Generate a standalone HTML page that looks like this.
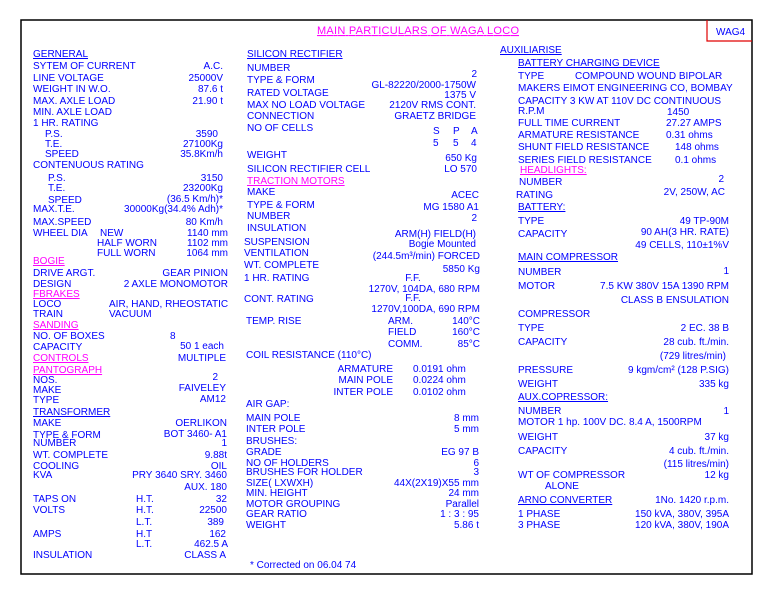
<!DOCTYPE html>
<html><head><meta charset="utf-8"><style>
html,body{margin:0;padding:0;background:#fff;}
svg{display:block;}
text{font-family:"Liberation Sans",sans-serif;font-size:10px;fill:#0000ff;}
.m{fill:#ff00ff;}
.e{text-anchor:end;}
.u{text-decoration:underline;}
</style></head><body>
<svg width="780" height="605" viewBox="0 0 780 605" xmlns="http://www.w3.org/2000/svg">
<rect x="21" y="20" width="731" height="554" fill="none" stroke="#000" stroke-width="1.5"/>
<polyline points="707,20 707,41 752,41" fill="none" stroke="#e00000" stroke-width="1.2"/>
<text x="716" y="35">WAG4</text>
<text x="317" y="34" class="m u" textLength="202" style="font-size:11px">MAIN PARTICULARS OF WAGA LOCO</text>

<!-- LEFT COLUMN -->
<text x="33" y="57" class="u">GERNERAL</text>
<text x="33" y="69">SYTEM OF CURRENT</text><text x="223" y="69" class="e">A.C.</text>
<text x="33" y="81">LINE VOLTAGE</text><text x="223" y="81" class="e">25000V</text>
<text x="33" y="92">WEIGHT IN W.O.</text><text x="223" y="92" class="e">87.6 t</text>
<text x="33" y="104">MAX. AXLE LOAD</text><text x="223" y="104" class="e">21.90 t</text>
<text x="33" y="115">MIN. AXLE LOAD</text>
<text x="33" y="126">1 HR. RATING</text>
<text x="45" y="137">P.S.</text><text x="218" y="137" class="e">3590</text>
<text x="45" y="147">T.E.</text><text x="223" y="147" class="e">27100Kg</text>
<text x="45" y="157">SPEED</text><text x="223" y="157" class="e">35.8Km/h</text>
<text x="33" y="168">CONTENUOUS RATING</text>
<text x="48" y="181">P.S.</text><text x="223" y="181" class="e">3150</text>
<text x="48" y="191">T.E.</text><text x="223" y="191" class="e">23200Kg</text>
<text x="48" y="203">SPEED</text><text x="223" y="202" class="e">(36.5 Km/h)*</text>
<text x="33" y="212">MAX.T.E.</text><text x="223" y="212" class="e">30000Kg(34.4% Adh)*</text>
<text x="33" y="225">MAX.SPEED</text><text x="223" y="225" class="e">80 Km/h</text>
<text x="33" y="236">WHEEL DIA</text><text x="100" y="236">NEW</text><text x="228" y="236" class="e">1140 mm</text>
<text x="97" y="246">HALF WORN</text><text x="228" y="246" class="e">1102 mm</text>
<text x="97" y="256">FULL WORN</text><text x="228" y="256" class="e">1064 mm</text>
<text x="33" y="264" class="m u">BOGIE</text>
<text x="33" y="276">DRIVE ARGT.</text><text x="228" y="276" class="e">GEAR PINION</text>
<text x="33" y="287">DESIGN</text><text x="228" y="287" class="e">2 AXLE MONOMOTOR</text>
<text x="33" y="297" class="m u">FBRAKES</text>
<text x="33" y="307">LOCO</text><text x="109" y="307">AIR, HAND, RHEOSTATIC</text>
<text x="33" y="317">TRAIN</text><text x="109" y="317">VACUUM</text>
<text x="33" y="328" class="m u">SANDING</text>
<text x="33" y="339">NO. OF BOXES</text><text x="170" y="339">8</text>
<text x="33" y="350">CAPACITY</text><text x="224" y="349" class="e">50 1 each</text>
<text x="33" y="361" class="m u">CONTROLS</text><text x="226" y="361" class="e">MULTIPLE</text>
<text x="33" y="373" class="m u">PANTOGRAPH</text>
<text x="33" y="383">NOS.</text><text x="218" y="380" class="e">2</text>
<text x="33" y="393">MAKE</text><text x="226" y="391" class="e">FAIVELEY</text>
<text x="33" y="403">TYPE</text><text x="226" y="402" class="e">AM12</text>
<text x="33" y="415" class="u">TRANSFORMER</text>
<text x="33" y="426">MAKE</text><text x="227" y="426" class="e">OERLIKON</text>
<text x="33" y="438">TYPE &amp; FORM</text><text x="227" y="437" class="e">BOT 3460- A1</text>
<text x="33" y="446">NUMBER</text><text x="227" y="446" class="e">1</text>
<text x="33" y="458">WT. COMPLETE</text><text x="227" y="458" class="e">9.88t</text>
<text x="33" y="469">COOLING</text><text x="227" y="469" class="e">OIL</text>
<text x="33" y="478">KVA</text><text x="227" y="478" class="e">PRY 3640 SRY. 3460</text>
<text x="227" y="490" class="e">AUX. 180</text>
<text x="33" y="502">TAPS ON</text><text x="136" y="502">H.T.</text><text x="227" y="502" class="e">32</text>
<text x="33" y="513">VOLTS</text><text x="136" y="513">H.T.</text><text x="227" y="513" class="e">22500</text>
<text x="136" y="525">L.T.</text><text x="224" y="525" class="e">389</text>
<text x="33" y="537">AMPS</text><text x="136" y="537">H.T</text><text x="226" y="537" class="e">162</text>
<text x="136" y="547">L.T.</text><text x="228" y="547" class="e">462.5 A</text>
<text x="33" y="558">INSULATION</text><text x="226" y="558" class="e">CLASS A</text>

<!-- MIDDLE COLUMN -->
<text x="247" y="57" class="u">SILICON RECTIFIER</text>
<text x="247" y="71">NUMBER</text><text x="477" y="77" class="e">2</text>
<text x="247" y="83">TYPE &amp; FORM</text><text x="476" y="88" class="e">GL-82220/2000-1750W</text>
<text x="247" y="96">RATED VOLTAGE</text><text x="476" y="98" class="e">1375 V</text>
<text x="247" y="108">MAX NO LOAD VOLTAGE</text><text x="476" y="108" class="e">2120V RMS CONT.</text>
<text x="247" y="119">CONNECTION</text><text x="476" y="119" class="e">GRAETZ BRIDGE</text>
<text x="247" y="131">NO OF CELLS</text>
<text x="433" y="134">S</text><text x="453" y="134">P</text><text x="471" y="134">A</text>
<text x="433" y="146">5</text><text x="453" y="146">5</text><text x="471" y="146">4</text>
<text x="247" y="158">WEIGHT</text><text x="477" y="161" class="e">650 Kg</text>
<text x="247" y="172">SILICON RECTIFIER CELL</text><text x="477" y="172" class="e">LO 570</text>
<text x="247" y="184" class="m u">TRACTION MOTORS</text>
<text x="247" y="195">MAKE</text><text x="479" y="198" class="e">ACEC</text>
<text x="247" y="208">TYPE &amp; FORM</text><text x="479" y="210" class="e">MG 1580 A1</text>
<text x="247" y="219">NUMBER</text><text x="477" y="221" class="e">2</text>
<text x="247" y="231">INSULATION</text><text x="476" y="237" class="e">ARM(H) FIELD(H)</text>
<text x="244" y="245">SUSPENSION</text><text x="476" y="247" class="e">Bogie Mounted</text>
<text x="244" y="256">VENTILATION</text><text x="480" y="259" class="e">(244.5m³/min) FORCED</text>
<text x="244" y="268">WT. COMPLETE</text><text x="480" y="272" class="e">5850 Kg</text>
<text x="244" y="281">1 HR. RATING</text><text x="413" y="281" text-anchor="middle">F.F.</text>
<text x="480" y="292" class="e">1270V, 104DA, 680 RPM</text>
<text x="244" y="302">CONT. RATING</text><text x="413" y="301" text-anchor="middle">F.F.</text>
<text x="480" y="312" class="e">1270V,100DA, 690 RPM</text>
<text x="246" y="324">TEMP. RISE</text><text x="388" y="324">ARM.</text><text x="480" y="324" class="e">140°C</text>
<text x="388" y="335">FIELD</text><text x="480" y="335" class="e">160°C</text>
<text x="388" y="347">COMM.</text><text x="480" y="347" class="e">85°C</text>
<text x="246" y="358">COIL RESISTANCE (110°C)</text>
<text x="393" y="372" class="e">ARMATURE</text><text x="413" y="372">0.0191 ohm</text>
<text x="393" y="383" class="e">MAIN POLE</text><text x="413" y="383">0.0224 ohm</text>
<text x="393" y="395" class="e">INTER POLE</text><text x="413" y="395">0.0102 ohm</text>
<text x="246" y="407">AIR GAP:</text>
<text x="246" y="421">MAIN POLE</text><text x="479" y="421" class="e">8 mm</text>
<text x="246" y="432">INTER POLE</text><text x="479" y="432" class="e">5 mm</text>
<text x="246" y="444">BRUSHES:</text>
<text x="246" y="455">GRADE</text><text x="479" y="455" class="e">EG 97 B</text>
<text x="246" y="466">NO OF HOLDERS</text><text x="479" y="466" class="e">6</text>
<text x="246" y="475">BRUSHES FOR HOLDER</text><text x="479" y="475" class="e">3</text>
<text x="246" y="486">SIZE( LXWXH)</text><text x="479" y="486" class="e">44X(2X19)X55 mm</text>
<text x="246" y="496">MIN. HEIGHT</text><text x="479" y="496" class="e">24 mm</text>
<text x="246" y="507">MOTOR GROUPING</text><text x="479" y="507" class="e">Parallel</text>
<text x="246" y="517">GEAR RATIO</text><text x="479" y="517" class="e">1 : 3 : 95</text>
<text x="246" y="528">WEIGHT</text><text x="479" y="528" class="e">5.86 t</text>
<text x="250" y="568">*  Corrected on 06.04 74</text>

<!-- RIGHT COLUMN -->
<text x="500" y="53" class="u">AUXILIARISE</text>
<text x="518" y="66" class="u">BATTERY CHARGING DEVICE</text>
<text x="518" y="79">TYPE</text><text x="575" y="79">COMPOUND WOUND BIPOLAR</text>
<text x="518" y="91">MAKERS EIMOT ENGINEERING CO, BOMBAY</text>
<text x="518" y="104">CAPACITY 3 KW AT 110V DC CONTINUOUS</text>
<text x="518" y="114">R.P.M</text><text x="667" y="115">1450</text>
<text x="518" y="126">FULL TIME CURRENT</text><text x="666" y="126">27.27 AMPS</text>
<text x="518" y="138">ARMATURE RESISTANCE</text><text x="666" y="138">0.31 ohms</text>
<text x="518" y="150">SHUNT FIELD RESISTANCE</text><text x="675" y="150">148 ohms</text>
<text x="518" y="163">SERIES FIELD RESISTANCE</text><text x="675" y="163">0.1 ohms</text>
<text x="520" y="173" class="m u">HEADLIGHTS:</text>
<text x="519" y="185">NUMBER</text><text x="724" y="182" class="e">2</text>
<text x="516" y="198">RATING</text><text x="725" y="195" class="e">2V, 250W, AC</text>
<text x="518" y="210" class="u">BATTERY:</text>
<text x="518" y="224">TYPE</text><text x="729" y="224" class="e">49 TP-90M</text>
<text x="518" y="237">CAPACITY</text><text x="729" y="235" class="e">90 AH(3 HR. RATE)</text>
<text x="729" y="248" class="e">49 CELLS, 110±1%V</text>
<text x="518" y="260" class="u">MAIN COMPRESSOR</text>
<text x="518" y="275">NUMBER</text><text x="729" y="274" class="e">1</text>
<text x="518" y="289">MOTOR</text><text x="729" y="289" class="e">7.5 KW 380V 15A 1390 RPM</text>
<text x="729" y="303" class="e">CLASS B ENSULATION</text>
<text x="518" y="317">COMPRESSOR</text>
<text x="518" y="331">TYPE</text><text x="729" y="331" class="e">2 EC. 38 B</text>
<text x="518" y="345">CAPACITY</text><text x="729" y="345" class="e">28 cub. ft./min.</text>
<text x="726" y="359" class="e">(729 litres/min)</text>
<text x="518" y="373">PRESSURE</text><text x="729" y="373" class="e">9 kgm/cm² (128 P.SIG)</text>
<text x="518" y="387">WEIGHT</text><text x="729" y="387" class="e">335 kg</text>
<text x="518" y="400" class="u">AUX.COPRESSOR:</text>
<text x="518" y="414">NUMBER</text><text x="729" y="414" class="e">1</text>
<text x="518" y="425">MOTOR 1 hp. 100V DC. 8.4 A, 1500RPM</text>
<text x="518" y="440">WEIGHT</text><text x="729" y="440" class="e">37 kg</text>
<text x="518" y="454">CAPACITY</text><text x="729" y="454" class="e">4 cub. ft./min.</text>
<text x="729" y="467" class="e">(115 litres/min)</text>
<text x="518" y="478">WT  OF COMPRESSOR</text><text x="729" y="478" class="e">12 kg</text>
<text x="545" y="489">ALONE</text>
<text x="518" y="503" class="u">ARNO CONVERTER</text><text x="729" y="503" class="e">1No. 1420 r.p.m.</text>
<text x="518" y="517">1 PHASE</text><text x="729" y="517" class="e">150 kVA, 380V, 395A</text>
<text x="518" y="528">3 PHASE</text><text x="729" y="528" class="e">120 kVA, 380V, 190A</text>
</svg>
</body></html>
